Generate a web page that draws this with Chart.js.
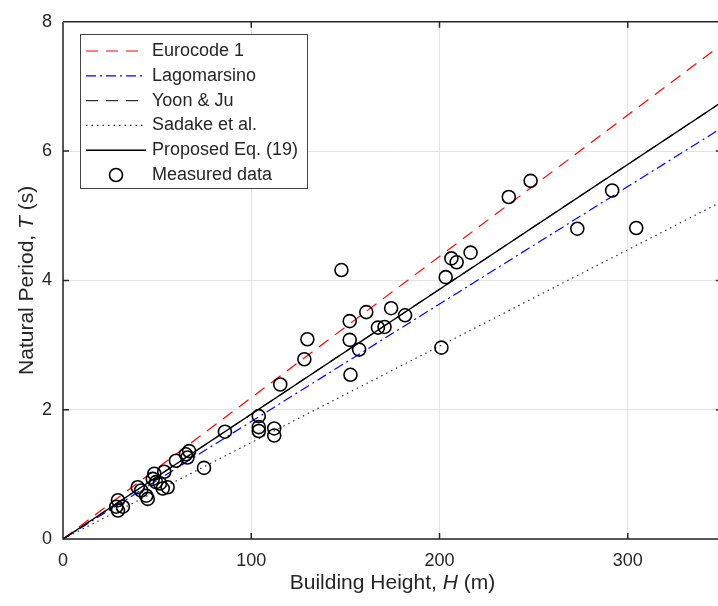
<!DOCTYPE html>
<html>
<head>
<meta charset="utf-8">
<script src="https://cdn.jsdelivr.net/npm/chart.js@4.4.1/dist/chart.umd.min.js"></script>
<style>
  html, body { margin: 0; padding: 0; background: #fff; overflow: hidden; }
</style>
</head>
<body>
<canvas id="chart" width="730" height="606"></canvas>
<script>
// reference lines, given by their end points
const lineH = [0, 350];
const eurocodeT = [0, 7.65];
const lagomarsinoT = [0, 6.36];
const yoonJuT = [0, 6.76];
const sadakeT = [0, 5.22];
const proposedT = [0, 6.76];

// measured buildings
const measuredH = [28.3, 29.2, 29.2, 31.8, 39.7, 41.5, 44.2, 45.0, 47.7, 48.5,
  49.4, 53.0, 53.8, 55.6, 51.5, 60.0, 65.3, 66.1, 67.0, 74.9,
  86.0, 104.0, 104.0, 104.0, 112.2, 112.2, 115.4, 128.2, 129.8, 147.9,
  152.3, 152.3, 152.7, 157.3, 161.1, 167.3, 170.8, 174.3, 181.7, 201.0,
  203.3, 206.3, 209.1, 216.5, 236.8, 248.4, 273.2, 291.7, 304.5];
const measuredT = [0.50, 0.60, 0.44, 0.50, 0.80, 0.75, 0.67, 0.62, 0.93, 1.01,
  0.88, 0.78, 1.04, 0.80, 0.86, 1.21, 1.31, 1.26, 1.36, 1.10,
  1.66, 1.90, 1.73, 1.67, 1.71, 1.60, 2.39, 2.78, 3.09, 4.16,
  3.37, 3.08, 2.54, 2.93, 3.51, 3.27, 3.28, 3.57, 3.46, 2.96,
  4.05, 4.34, 4.28, 4.43, 5.29, 5.54, 4.80, 5.39, 4.81];

const xTicks = [0, 100, 200, 300];
const yTicks = [0, 2, 4, 6, 8];

const FONT = "'Liberation Sans', Arial, sans-serif";
const TEXT = '#262626';

const toPoints = (xs, ys) => xs.map((x, i) => ({ x: x, y: ys[i] }));

const lineSet = (label, ys, color, dash, width, order) => ({
  label: label,
  data: toPoints(lineH, ys),
  showLine: true,
  borderColor: color,
  borderWidth: width,
  borderDash: dash,
  pointRadius: 0,
  fill: false,
  order: order
});

// draws a string made of plain / italic pieces, centred on (0, 0)
function drawParts(ctx, parts, size) {
  let total = 0;
  parts.forEach(p => {
    ctx.font = (p.italic ? 'italic ' : '') + size + 'px ' + FONT;
    p.w = ctx.measureText(p.text).width;
    total += p.w;
  });
  let x = -total / 2;
  parts.forEach(p => {
    ctx.font = (p.italic ? 'italic ' : '') + size + 'px ' + FONT;
    ctx.fillText(p.text, x, 0);
    x += p.w;
  });
}

const framePlugin = {
  id: 'frame',
  afterDraw(chart) {
    const ctx = chart.ctx;
    const a = chart.chartArea;
    const xs = chart.scales.x, ys = chart.scales.y;
    ctx.save();
    ctx.strokeStyle = TEXT;
    ctx.lineWidth = 1.5;
    ctx.beginPath();
    ctx.moveTo(a.left, a.top);
    ctx.lineTo(a.right, a.top);
    ctx.moveTo(a.left, a.top);
    ctx.lineTo(a.left, a.bottom);
    ctx.lineTo(a.right, a.bottom);
    ctx.lineTo(a.right, a.top);
    // inward ticks
    xTicks.forEach(v => {
      const px = xs.getPixelForValue(v);
      ctx.moveTo(px, a.bottom); ctx.lineTo(px, a.bottom - 6);
      ctx.moveTo(px, a.top); ctx.lineTo(px, a.top + 6);
    });
    yTicks.forEach(v => {
      const py = ys.getPixelForValue(v);
      ctx.moveTo(a.left, py); ctx.lineTo(a.left + 6, py);
      ctx.moveTo(a.right, py); ctx.lineTo(a.right - 6, py);
    });
    ctx.stroke();

    // axis titles
    ctx.fillStyle = TEXT;
    ctx.textBaseline = 'middle';
    ctx.textAlign = 'left';
    ctx.save();
    ctx.translate((a.left + a.right) / 2, 583);
    drawParts(ctx, [{ text: 'Building Height, ' }, { text: 'H', italic: true }, { text: ' (m)' }], 21);
    ctx.restore();
    ctx.save();
    ctx.translate(27, (a.top + a.bottom) / 2);
    ctx.rotate(-Math.PI / 2);
    drawParts(ctx, [{ text: 'Natural Period, ' }, { text: 'T', italic: true }, { text: ' (s)' }], 21);
    ctx.restore();

    // legend box
    const bx = 80.5, by = 34.5, bw = 227, bh = 154;
    ctx.fillStyle = '#fff';
    ctx.fillRect(bx, by, bw, bh);
    ctx.strokeStyle = '#444';
    ctx.lineWidth = 1;
    ctx.strokeRect(bx, by, bw, bh);
    chart.data.datasets.forEach((ds, i) => {
      const y = 51 + i * 24.8;
      ctx.save();
      if (ds.showLine) {
        ctx.strokeStyle = ds.borderColor;
        ctx.lineWidth = ds.borderWidth;
        ctx.setLineDash(ds.borderDash || []);
        ctx.beginPath();
        ctx.moveTo(86, y);
        ctx.lineTo(146, y);
        ctx.stroke();
      } else {
        ctx.strokeStyle = ds.borderColor;
        ctx.lineWidth = ds.borderWidth;
        ctx.beginPath();
        ctx.arc(116, y, ds.pointRadius, 0, Math.PI * 2);
        ctx.stroke();
      }
      ctx.restore();
      ctx.fillStyle = TEXT;
      ctx.font = '18px ' + FONT;
      ctx.textAlign = 'left';
      ctx.textBaseline = 'middle';
      ctx.fillText(ds.label, 152, y);
    });
    ctx.restore();
  }
};

new Chart(document.getElementById('chart'), {
  type: 'scatter',
  data: {
    datasets: [
      lineSet('Eurocode 1', eurocodeT, 'rgb(255,0,0)', [12, 8], 1.2, 5),
      lineSet('Lagomarsino', lagomarsinoT, 'rgb(0,0,255)', [10, 4, 2, 4], 1.2, 4),
      lineSet('Yoon & Ju', yoonJuT, '#333', [12, 8], 1.2, 6),
      lineSet('Sadake et al.', sadakeT, '#333', [1.5, 4], 1.2, 3),
      lineSet('Proposed Eq. (19)', proposedT, '#000', [], 1.4, 2),
      {
        label: 'Measured data',
        data: toPoints(measuredH, measuredT),
        showLine: false,
        pointStyle: 'circle',
        pointRadius: 6.5,
        borderColor: '#000',
        backgroundColor: 'rgba(0,0,0,0)',
        borderWidth: 1.6,
        order: 0
      }
    ]
  },
  options: {
    responsive: false,
    animation: false,
    devicePixelRatio: 1,
    layout: { padding: { top: 17, right: 4, left: 0, bottom: 0 } },
    plugins: {
      legend: { display: false },
      tooltip: { enabled: false }
    },
    scales: {
      x: {
        type: 'linear',
        min: 0,
        max: 350,
        afterBuildTicks: s => { s.ticks = xTicks.map(v => ({ value: v })); },
        afterFit: s => { s.height = 67; },
        ticks: { color: TEXT, font: { family: FONT, size: 18 }, padding: 11, maxRotation: 0 },
        grid: { color: '#e3e3e3', drawTicks: false },
        border: { display: false }
      },
      y: {
        type: 'linear',
        min: 0,
        max: 8,
        afterBuildTicks: s => { s.ticks = yTicks.map(v => ({ value: v })); },
        afterFit: s => { s.width = 63; },
        ticks: { color: TEXT, font: { family: FONT, size: 18 }, padding: 11 },
        grid: { color: '#e3e3e3', drawTicks: false },
        border: { display: false }
      }
    }
  },
  plugins: [framePlugin]
});
</script>
</body>
</html>
